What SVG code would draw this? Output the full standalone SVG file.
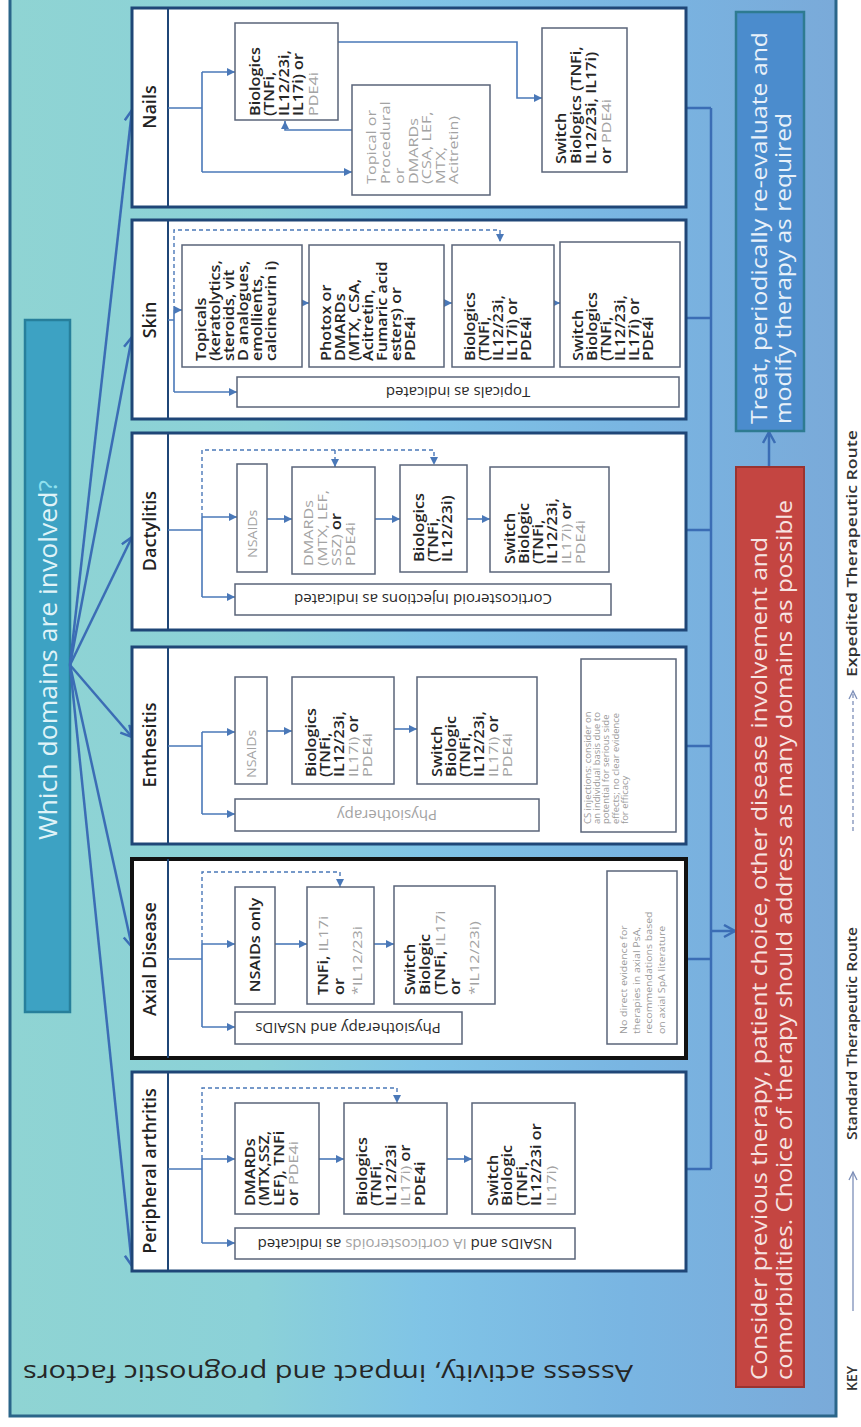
<svg xmlns="http://www.w3.org/2000/svg" width="861" height="1427" viewBox="0 0 861 1427">
<defs>
<linearGradient id="bg" x1="0" y1="0" x2="1" y2="0">
<stop offset="0" stop-color="#8fd4d3"/>
<stop offset="0.3" stop-color="#8bd1d8"/>
<stop offset="0.5" stop-color="#80c4e6"/>
<stop offset="0.75" stop-color="#79b5e2"/>
<stop offset="1" stop-color="#7aaad9"/>
</linearGradient>
<marker id="a" markerUnits="userSpaceOnUse" markerWidth="9" markerHeight="8" refX="8" refY="4" orient="auto"><path d="M0,0 L8,4 L0,8 z" fill="#4a78b8"/></marker>
<marker id="big" markerUnits="userSpaceOnUse" markerWidth="16" markerHeight="16" refX="12" refY="7" orient="auto"><path d="M1,1 L12,7 L1,13" fill="none" stroke="#3b6db5" stroke-width="2.5"/></marker>
<marker id="key" markerUnits="userSpaceOnUse" markerWidth="12" markerHeight="12" refX="9" refY="5" orient="auto"><path d="M1,1 L9,5 L1,9" fill="none" stroke="#7d8fb8" stroke-width="1.3"/></marker>
<style>
.panel{fill:#fff;stroke:#1f4677;stroke-width:3}
.box{fill:#fff;stroke:#5a6479;stroke-width:1.5}
.con{stroke:#4a78b8;stroke-width:1.6;fill:none}
.dash{stroke:#4a78b8;stroke-width:1.4;fill:none;stroke-dasharray:4 3}
.fan{stroke:#3b6db5;stroke-width:2.5;fill:none}
text{font-family:"Open Sans","Liberation Sans",sans-serif}
.hd{font-size:18px;font-weight:600;fill:#222}
.b{font-size:13.5px;font-weight:600;fill:#262626}
.g{font-size:13.5px;font-weight:400;fill:#a3a3a3}
.gr{font-weight:400;fill:#a3a3a3}
.dk{font-weight:600;fill:#262626}
.u{font-size:15px;font-weight:400;fill:#2a2a2a}
.ug{font-size:15px;font-weight:400;fill:#a3a3a3}
.note{font-size:8.6px;font-weight:400;fill:#9a9a9a}
.big{font-size:22px;font-weight:400}
.key{font-size:14px;font-weight:600;fill:#333}
</style>
</defs>

<g id="background">
<rect x="10" y="-3" width="826" height="1419" fill="url(#bg)" stroke="#2a6589" stroke-width="3"/>
</g>

<g id="assess">
<text x="328" y="1355" text-anchor="middle" font-size="24" fill="#262626" transform="rotate(180 328 1360)" textLength="610" lengthAdjust="spacingAndGlyphs">Assess activity, impact and prognostic factors</text>
</g>

<g id="which-domains">
<rect x="25" y="320" width="45" height="692" fill="#3da2c3" stroke="#277f9b" stroke-width="2.5"/>
<text transform="translate(57,660) rotate(-90)" text-anchor="middle" font-size="25" fill="#dff3f8" textLength="360" lengthAdjust="spacingAndGlyphs">Which domains are involved<tspan fill="#8fe0ee">?</tspan></text>
</g>

<g id="connectors">
<path class="fan" d="M70,665 L132,110" marker-end="url(#big)"/>
<path class="fan" d="M70,665 L132,337" marker-end="url(#big)"/>
<path class="fan" d="M70,665 L132,537" marker-end="url(#big)"/>
<path class="fan" d="M70,665 L132,737" marker-end="url(#big)"/>
<path class="fan" d="M70,665 L132,947" marker-end="url(#big)"/>
<path class="fan" d="M70,665 L132,1266" marker-end="url(#big)"/>
<path class="fan" d="M686,108 H711 M686,318 H711 M686,530 H711 M686,746 H711 M686,959 H711 M686,1169 H711 M711,108 V1169"/>
<path class="fan" d="M711,931 H735" marker-end="url(#big)"/>
<path class="fan" d="M769,467 V432" marker-end="url(#big)"/>
</g>

<g id="nails">
<rect class="panel" x="132" y="8" width="554" height="199"/>
<line x1="168" y1="8" x2="168" y2="207" stroke="#1f4677" stroke-width="2"/>
<text class="hd" transform="translate(156,107) rotate(-90)" text-anchor="middle">Nails</text>
<path class="con" d="M168,108 H202 M202,72 V172"/>
<path class="con" d="M202,72 H235" marker-end="url(#a)"/>
<path class="con" d="M202,172 H352" marker-end="url(#a)"/>
<path class="con" d="M352,130 H285 V121" marker-end="url(#a)"/>
<path class="con" d="M338,42 H517 V98 H542" marker-end="url(#a)"/>
<rect class="box" x="235" y="23" width="103" height="97"/>
<text class="b" transform="translate(260,116) rotate(-90) scale(1.2,1)"><tspan x="0" y="0">Biologics</tspan><tspan x="0" y="14.5">(TNFi,</tspan><tspan x="0" y="29">IL12/23i,</tspan><tspan x="0" y="43.5">IL17i) or</tspan><tspan x="0" y="58" class="gr">PDE4i</tspan></text>
<rect class="box" x="352" y="85" width="138" height="110"/>
<text class="g" transform="translate(376,184) rotate(-90) scale(1.2,1)"><tspan x="0" y="0">Topical or</tspan><tspan x="0" y="13.5">Procedural</tspan><tspan x="0" y="28.5">or</tspan><tspan x="0" y="42">DMARDs</tspan><tspan x="0" y="55.5">(CSA, LEF,</tspan><tspan x="0" y="69">MTX,</tspan><tspan x="0" y="82.5">Acitretin)</tspan></text>
<rect class="box" x="542" y="28" width="85" height="144"/>
<text class="b" transform="translate(566,164) rotate(-90) scale(1.2,1)"><tspan x="0" y="0">Switch</tspan><tspan x="0" y="15">Biologics (TNFi,</tspan><tspan x="0" y="30">IL12/23i, IL17i)</tspan><tspan x="0" y="45">or <tspan class="gr">PDE4i</tspan></tspan></text>
</g>

<g id="skin">
<rect class="panel" x="132" y="220" width="554" height="199"/>
<line x1="168" y1="220" x2="168" y2="419" stroke="#1f4677" stroke-width="2"/>
<text class="hd" transform="translate(156,320) rotate(-90)" text-anchor="middle">Skin</text>
<path class="con" d="M168,320 H174 M174,310 V392"/>
<path class="con" d="M174,310 H182" marker-end="url(#a)"/>
<path class="con" d="M174,392 H237" marker-end="url(#a)"/>
<path class="dash" d="M174,310 V230 H500 V242" marker-end="url(#a)"/>
<path class="con" d="M302,303 H309" marker-end="url(#a)"/>
<path class="con" d="M444,303 H452" marker-end="url(#a)"/>
<path class="con" d="M554,303 H560" marker-end="url(#a)"/>
<rect class="box" x="182" y="245" width="120" height="122"/>
<text class="b" transform="translate(206,361) rotate(-90) scale(1.2,1)"><tspan x="0" y="0">Topicals</tspan><tspan x="0" y="14">(keratolytics,</tspan><tspan x="0" y="28">steroids, vit</tspan><tspan x="0" y="42">D analogues,</tspan><tspan x="0" y="56">emollients,</tspan><tspan x="0" y="70">calcineurin i)</tspan></text>
<rect class="box" x="309" y="245" width="135" height="122"/>
<text class="b" transform="translate(331,361) rotate(-90) scale(1.2,1)"><tspan x="0" y="0">Photox or</tspan><tspan x="0" y="14">DMARDs</tspan><tspan x="0" y="28">(MTX, CSA,</tspan><tspan x="0" y="42">Acitretin,</tspan><tspan x="0" y="56">Fumaric acid</tspan><tspan x="0" y="70">esters) or</tspan><tspan x="0" y="84">PDE4i</tspan></text>
<rect class="box" x="452" y="245" width="102" height="122"/>
<text class="b" transform="translate(475,361) rotate(-90) scale(1.2,1)"><tspan x="0" y="0">Biologics</tspan><tspan x="0" y="14">(TNFi,</tspan><tspan x="0" y="28">IL12/23i,</tspan><tspan x="0" y="42">IL17i) or</tspan><tspan x="0" y="56">PDE4i</tspan></text>
<rect class="box" x="560" y="242" width="120" height="125"/>
<text class="b" transform="translate(583,361) rotate(-90) scale(1.2,1)"><tspan x="0" y="0">Switch</tspan><tspan x="0" y="14">Biologics</tspan><tspan x="0" y="28">(TNFi,</tspan><tspan x="0" y="42">IL12/23i,</tspan><tspan x="0" y="56">IL17i) or</tspan><tspan x="0" y="70">PDE4i</tspan></text>
<rect class="box" x="237" y="377" width="442" height="30"/>
<text class="u" x="458" y="397" text-anchor="middle" transform="rotate(180 458 392)">Topicals as indicated</text>
</g>

<g id="dactylitis">
<rect class="panel" x="132" y="433" width="554" height="197"/>
<line x1="168" y1="433" x2="168" y2="630" stroke="#1f4677" stroke-width="2"/>
<text class="hd" transform="translate(156,531) rotate(-90)" text-anchor="middle">Dactylitis</text>
<path class="con" d="M168,530 H202 M202,517 V597"/>
<path class="con" d="M202,517 H237" marker-end="url(#a)"/>
<path class="con" d="M202,597 H235" marker-end="url(#a)"/>
<path class="dash" d="M202,517 V450 H434 V465" marker-end="url(#a)"/>
<path class="dash" d="M335,450 V467" marker-end="url(#a)"/>
<path class="con" d="M267,519 H292" marker-end="url(#a)"/>
<path class="con" d="M375,519 H400" marker-end="url(#a)"/>
<path class="con" d="M467,519 H490" marker-end="url(#a)"/>
<rect class="box" x="237" y="464" width="30" height="108"/>
<text class="g" transform="translate(257,558) rotate(-90) scale(1.05,1)">NSAIDs</text>
<rect class="box" x="292" y="467" width="83" height="107"/>
<text class="g" transform="translate(313,566) rotate(-90) scale(1.2,1)"><tspan x="0" y="0">DMARDs</tspan><tspan x="0" y="14">(MTX, LEF,</tspan><tspan x="0" y="28">SSZ) <tspan class="dk">or</tspan></tspan><tspan x="0" y="42">PDE4i</tspan></text>
<rect class="box" x="400" y="465" width="67" height="107"/>
<text class="b" transform="translate(424,562) rotate(-90) scale(1.2,1)"><tspan x="0" y="0">Biologics</tspan><tspan x="0" y="14">(TNFi,</tspan><tspan x="0" y="28">IL12/23i)</tspan></text>
<rect class="box" x="490" y="467" width="119" height="105"/>
<text class="b" transform="translate(515,564) rotate(-90) scale(1.2,1)"><tspan x="0" y="0">Switch</tspan><tspan x="0" y="14">Biologic</tspan><tspan x="0" y="28">(TNFi,</tspan><tspan x="0" y="42">IL12/23i,</tspan><tspan x="0" y="56"><tspan class="gr">IL17i)</tspan> or</tspan><tspan x="0" y="70" class="gr">PDE4i</tspan></text>
<rect class="box" x="235" y="584" width="376" height="31"/>
<text class="u" x="423" y="605" text-anchor="middle" transform="rotate(180 423 599.5)">Corticosteroid Injections as indicated</text>
</g>

<g id="enthesitis">
<rect class="panel" x="132" y="647" width="554" height="197"/>
<line x1="168" y1="647" x2="168" y2="844" stroke="#1f4677" stroke-width="2"/>
<text class="hd" transform="translate(156,745) rotate(-90)" text-anchor="middle">Enthesitis</text>
<path class="con" d="M168,746 H202 M202,732 V814"/>
<path class="con" d="M202,732 H235" marker-end="url(#a)"/>
<path class="con" d="M202,814 H235" marker-end="url(#a)"/>
<path class="con" d="M267,731 H292" marker-end="url(#a)"/>
<path class="con" d="M394,729 H417" marker-end="url(#a)"/>
<rect class="box" x="235" y="677" width="32" height="107"/>
<text class="g" transform="translate(256,778) rotate(-90) scale(1.05,1)">NSAIDs</text>
<rect class="box" x="292" y="677" width="102" height="107"/>
<text class="b" transform="translate(316,777) rotate(-90) scale(1.2,1)"><tspan x="0" y="0">Biologics</tspan><tspan x="0" y="14">(TNFi,</tspan><tspan x="0" y="28">IL12/23i,</tspan><tspan x="0" y="42"><tspan class="gr">IL17i)</tspan> or</tspan><tspan x="0" y="56" class="gr">PDE4i</tspan></text>
<rect class="box" x="417" y="677" width="120" height="107"/>
<text class="b" transform="translate(442,777) rotate(-90) scale(1.2,1)"><tspan x="0" y="0">Switch</tspan><tspan x="0" y="14">Biologic</tspan><tspan x="0" y="28">(TNFi,</tspan><tspan x="0" y="42">IL12/23i,</tspan><tspan x="0" y="56"><tspan class="gr">IL17i)</tspan> or</tspan><tspan x="0" y="70" class="gr">PDE4i</tspan></text>
<rect class="box" x="235" y="799" width="304" height="32"/>
<text class="ug" x="387" y="820" text-anchor="middle" transform="rotate(180 387 815)">Physiotherapy</text>
<rect class="box" x="581" y="659" width="95" height="173"/>
<text class="note" transform="translate(591,824) rotate(-90) scale(1.1,1)"><tspan x="0" y="0">CS injections: consider on</tspan><tspan x="0" y="9.2">an individual basis due to</tspan><tspan x="0" y="18.4">potential for serious side</tspan><tspan x="0" y="27.6">effects; no clear evidence</tspan><tspan x="0" y="36.8">for efficacy</tspan></text>
</g>

<g id="axial-disease">
<rect x="132" y="859" width="554" height="199" fill="#fff" stroke="#111" stroke-width="4"/>
<line x1="168" y1="859" x2="168" y2="1058" stroke="#1f4677" stroke-width="2"/>
<text class="hd" transform="translate(156,959) rotate(-90)" text-anchor="middle">Axial Disease</text>
<path class="con" d="M168,959 H202 M202,944 V1027"/>
<path class="con" d="M202,944 H235" marker-end="url(#a)"/>
<path class="con" d="M202,1027 H235" marker-end="url(#a)"/>
<path class="dash" d="M202,944 V872 H340 V887" marker-end="url(#a)"/>
<path class="con" d="M275,944 H307" marker-end="url(#a)"/>
<path class="con" d="M374,944 H394" marker-end="url(#a)"/>
<rect class="box" x="235" y="887" width="40" height="117"/>
<text class="b" transform="translate(260,945) rotate(-90) scale(1.2,1)" text-anchor="middle">NSAIDs only</text>
<rect class="box" x="307" y="887" width="67" height="117"/>
<text class="b" transform="translate(328,995) rotate(-90) scale(1.2,1)"><tspan x="0" y="0">TNFi, <tspan class="gr">IL17i</tspan></tspan><tspan x="0" y="16">or</tspan><tspan x="0" y="34" class="gr">*IL12/23i</tspan></text>
<rect class="box" x="394" y="886" width="101" height="118"/>
<text class="b" transform="translate(415,995) rotate(-90) scale(1.2,1)"><tspan x="0" y="0">Switch</tspan><tspan x="0" y="15">Biologic</tspan><tspan x="0" y="30">(TNFi, <tspan class="gr">IL17i</tspan></tspan><tspan x="0" y="45">or</tspan><tspan x="0" y="64" class="gr">*IL12/23i)</tspan></text>
<rect class="box" x="235" y="1012" width="227" height="32"/>
<text class="u" x="348" y="1033" text-anchor="middle" transform="rotate(180 348 1028)">Physiotherapy and NSAIDs</text>
<rect class="box" x="607" y="871" width="70" height="173"/>
<text class="note" style="font-size:9.6px" transform="translate(627,1034) rotate(-90) scale(1.1,1)"><tspan x="0" y="0">No direct evidence for</tspan><tspan x="0" y="12.7">therapies in axial PsA,</tspan><tspan x="0" y="25.4">recommendations based</tspan><tspan x="0" y="38.1">on axial SpA literature</tspan></text>
</g>

<g id="peripheral-arthritis">
<rect class="panel" x="132" y="1072" width="554" height="199"/>
<line x1="168" y1="1072" x2="168" y2="1271" stroke="#1f4677" stroke-width="2"/>
<text class="hd" transform="translate(156,1171) rotate(-90)" text-anchor="middle">Peripheral arthritis</text>
<path class="con" d="M168,1169 H202 M202,1159 V1243"/>
<path class="con" d="M202,1159 H235" marker-end="url(#a)"/>
<path class="con" d="M202,1243 H235" marker-end="url(#a)"/>
<path class="dash" d="M202,1159 V1088 H397 V1103" marker-end="url(#a)"/>
<path class="con" d="M319,1159 H344" marker-end="url(#a)"/>
<path class="con" d="M447,1159 H472" marker-end="url(#a)"/>
<rect class="box" x="235" y="1103" width="84" height="111"/>
<text class="b" transform="translate(255,1206) rotate(-90) scale(1.2,1)"><tspan x="0" y="0">DMARDs</tspan><tspan x="0" y="14.5">(MTX,SSZ,</tspan><tspan x="0" y="29">LEF), TNFi</tspan><tspan x="0" y="43.5">or <tspan class="gr">PDE4i</tspan></tspan></text>
<rect class="box" x="344" y="1103" width="103" height="111"/>
<text class="b" transform="translate(367,1206) rotate(-90) scale(1.2,1)"><tspan x="0" y="0">Biologics</tspan><tspan x="0" y="14.5">(TNFi,</tspan><tspan x="0" y="29">IL12/23i</tspan><tspan x="0" y="43.5"><tspan class="gr">IL17i)</tspan> or</tspan><tspan x="0" y="58">PDE4i</tspan></text>
<rect class="box" x="472" y="1103" width="103" height="111"/>
<text class="b" transform="translate(498,1206) rotate(-90) scale(1.2,1)"><tspan x="0" y="0">Switch</tspan><tspan x="0" y="14.5">Biologic</tspan><tspan x="0" y="29">(TNFi,</tspan><tspan x="0" y="43.5">IL12/23i or</tspan><tspan x="0" y="58" class="gr">IL17i)</tspan></text>
<rect class="box" x="235" y="1228" width="340" height="31"/>
<text class="u" x="405" y="1248.5" text-anchor="middle" transform="rotate(180 405 1243.5)">NSAIDs and <tspan class="gr">IA corticosteroids</tspan> as indicated</text>
</g>

<g id="consider">
<rect x="736" y="467" width="68" height="920" fill="#c44541" stroke="#9a3330" stroke-width="2"/>
<text class="big" fill="#f7e3e1" transform="translate(767,1380) rotate(-90)"><tspan x="0" y="0" textLength="843" lengthAdjust="spacingAndGlyphs">Consider previous therapy, patient choice, other disease involvement and</tspan><tspan x="0" y="25" textLength="880" lengthAdjust="spacingAndGlyphs">comorbidities.  Choice of therapy should address as many domains as possible</tspan></text>
</g>

<g id="treat">
<rect x="736" y="12" width="68" height="419" fill="#4b8ccd" stroke="#2e7b91" stroke-width="2.5"/>
<text class="big" fill="#e8f1fa" transform="translate(767,424) rotate(-90)"><tspan x="0" y="0" textLength="392" lengthAdjust="spacingAndGlyphs">Treat, periodically re-evaluate and</tspan><tspan x="0" y="24" textLength="311" lengthAdjust="spacingAndGlyphs">modify therapy as required</tspan></text>
</g>

<g id="key">
<text class="key" transform="translate(857,1391) rotate(-90)">KEY</text>
<path d="M853,1311 V1172" stroke="#7d8fb8" stroke-width="1.3" fill="none" marker-end="url(#key)"/>
<text class="key" transform="translate(857,1140) rotate(-90)" textLength="213" lengthAdjust="spacingAndGlyphs">Standard Therapeutic Route</text>
<path d="M853,831 V691" stroke="#7d8fb8" stroke-width="1.3" fill="none" stroke-dasharray="4 3" marker-end="url(#key)"/>
<text class="key" transform="translate(857,677) rotate(-90)" textLength="247" lengthAdjust="spacingAndGlyphs">Expedited Therapeutic Route</text>
</g>
</svg>
